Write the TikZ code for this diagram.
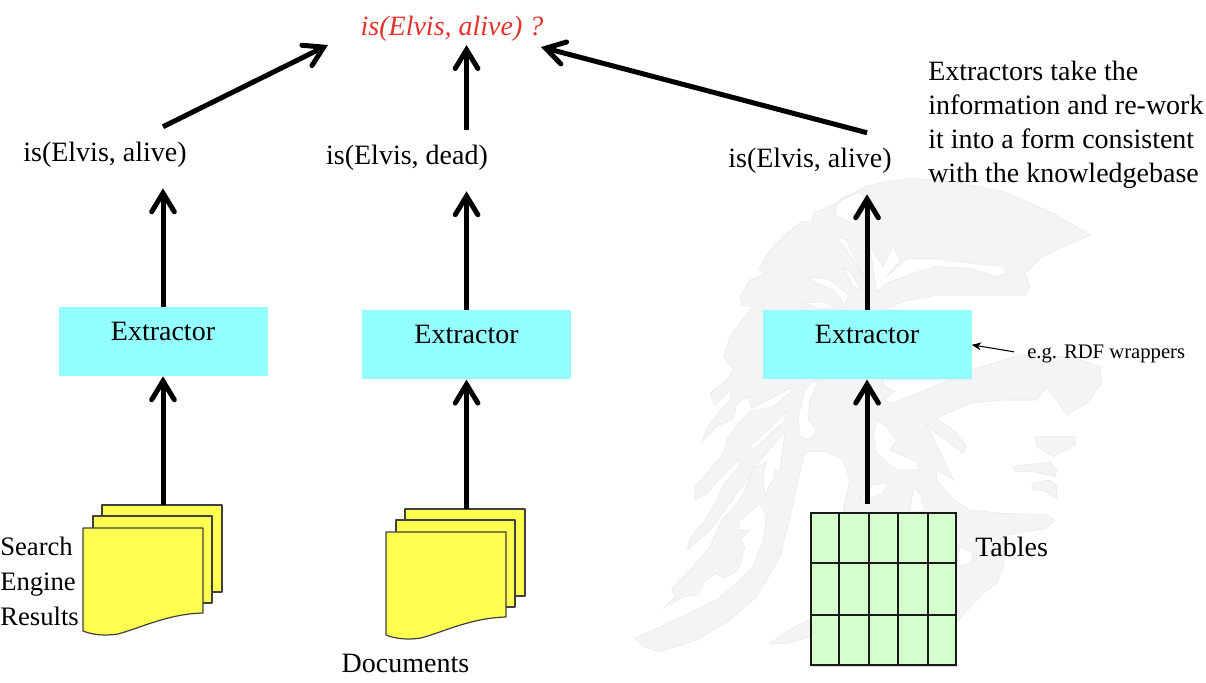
\documentclass[tikz,border=0pt]{standalone}
\usepackage{fontspec}
\setmainfont{Liberation Serif}
\definecolor{extcyan}{RGB}{148,255,255}
\definecolor{docyellow}{RGB}{255,255,80}
\definecolor{tblgreen}{RGB}{213,255,204}
\definecolor{askred}{RGB}{230,50,45}
\definecolor{helmetgray}{RGB}{244,244,244}
\usetikzlibrary{
  arrows.meta,
  positioning,
  calc,
  shadows
}
\tikzset{
  extbox/.style={fill=extcyan, minimum width=156.75pt, inner ysep=0pt,
    text height=24.75pt, text depth=27pt, font=\fontsize{21pt}{25pt}\selectfont},
  valtext/.style={minimum height=42pt, inner sep=0pt,
    font=\fontsize{21pt}{25pt}\selectfont},
  plaintext/.style={inner sep=0pt, align=left,
    font=\fontsize{21pt}{25.4pt}\selectfont},
  docsheet/.style={draw=black!75, line width=0.9pt, fill=docyellow, line join=round},
  tablebox/.style={draw=black!90, line width=1.8pt, fill=tblgreen,
    minimum width=108.75pt, minimum height=114pt, inner sep=0pt,
    drop shadow={shadow xshift=1pt, shadow yshift=-1.2pt, opacity=0.3}},
  gridline/.style={draw=black!90, line width=1.8pt},
  arr/.style={-{Straight Barb[length=14pt, width=17pt, line cap=round]}, line width=3.75pt},
  thinarr/.style={-{Stealth[length=7pt, width=6pt]}, line width=0.8pt},
  helmet/.style={fill=helmetgray, draw=black!9, line width=0.4pt},
  helmethole/.style={fill=white, draw=black!9, line width=0.4pt},
}
% one pile of three sheets, #1 names its top edge point
\newcommand{\docstack}[3]{
  \coordinate (#1) at (#2,#3);
  \begin{scope}[shift={(#2,#3)}]
    \path[docsheet] (-61,0) rectangle (59,87);
    \path[docsheet] (-70,11) rectangle (49,98);
    \path[docsheet] (-80,23) -- (40,23) -- (40,108)
      .. controls (5,109) and (-20,122) .. (-45,129)
      .. controls (-58,131) and (-70,130) .. (-80,126) -- cycle;
  \end{scope}
}
\begin{document}
\begin{tikzpicture}[x=0.75pt, y=-0.75pt]
  \useasboundingbox (0,0) rectangle (1206,682);

  % Faint helmet behind the right column
  \begin{scope}[shift={(620,170)}, x=0.25pt, y=-0.25pt]
    \path[helmet] (735,50) -- (800,35) -- (880,25) -- (1000,35) -- (1150,65) -- (1300,130)
      -- (1410,195) -- (1340,225) -- (1260,265) -- (1215,310) -- (1230,350) -- (1215,375)
      -- (1100,375) -- (950,375) -- (850,395) -- (800,415) -- (1000,500) -- (1053,600)
      -- (1200,555) -- (1350,560) -- (1440,590) -- (1445,640) -- (1400,700) -- (1340,735)
      -- (1310,690) -- (1280,650) -- (1250,690) -- (1150,690) -- (1050,700) -- (950,745)
      -- (1000,780) -- (1040,830) -- (1030,850) -- (990,820) -- (950,790) -- (920,765)
      -- (1000,930) -- (950,900) -- (950,930) -- (1000,990) -- (1050,1020) -- (1150,1030)
      -- (1280,1035) -- (1305,1050) -- (1280,1075) -- (1160,1095) -- (1150,1190)
      -- (1130,1240) -- (1090,1270) -- (1060,1300) -- (1007,1360) -- (900,1400)
      -- (700,1100) -- (670,1020) -- (690,930) -- (670,870) -- (620,845) -- (560,845)
      -- (550,860) -- (520,1000) -- (480,1160) -- (410,1280) -- (330,1350) -- (230,1410)
      -- (120,1445) -- (70,1430) -- (45,1405) -- (165,1350) -- (290,1290) -- (350,1240)
      -- (400,1190) -- (430,1110) -- (440,1040) -- (420,1000) -- (405,1015) -- (360,1050)
      -- (355,1080) -- (390,1080) -- (360,1110) -- (375,1130) -- (355,1200) -- (310,1225)
      -- (290,1210) -- (255,1230) -- (235,1275) -- (190,1280) -- (130,1315) -- (165,1280)
      -- (155,1255) -- (220,1190) -- (270,1130) -- (305,1050) -- (330,1025) -- (360,990)
      -- (395,910) -- (270,1080) -- (202,1140) -- (210,1105) -- (255,1050) -- (295,985)
      -- (310,945) -- (360,885) -- (355,870) -- (305,920) -- (260,970) -- (225,990)
      -- (225,950) -- (260,910) -- (310,850) -- (320,810) -- (350,765) -- (390,725)
      -- (460,710) -- (520,660) -- (510,655) -- (395,715) -- (385,680) -- (350,700)
      -- (340,745) -- (290,770) -- (245,815) -- (265,765) -- (300,725) -- (335,685)
      -- (330,660) -- (285,705) -- (270,670) -- (330,620) -- (340,600) -- (310,560)
      -- (330,500) -- (390,420) -- (400,410) -- (365,405) -- (360,380) -- (390,330)
      -- (440,310) -- (415,300) -- (450,240) -- (500,190) -- (545,155) -- (575,155)
      -- (580,130) -- (650,100) -- (665,85) -- (720,60) -- cycle;
    \path[helmet] (450,1420) -- (500,1385) -- (573,1345) -- (573,1400) -- (500,1420) -- cycle;
    \path[helmet] (1245,800) -- (1365,800) -- (1365,825) -- (1300,860) -- (1250,830) -- cycle;
    \path[helmet] (1180,890) -- (1290,875) -- (1310,900) -- (1305,920) -- (1240,905) -- (1185,905) -- cycle;
    \path[helmet] (1235,940) -- (1290,930) -- (1310,950) -- (1310,985) -- (1270,960) -- (1240,960) -- cycle;
    % Holes in the helmet
    \path[helmethole] (650,200) -- (680,210) -- (730,320) -- (700,270) -- cycle;
    \path[helmethole] (665,90) -- (715,68) -- (730,75) -- (735,110) -- (710,165) -- (675,150) -- (645,135) -- (650,105) -- cycle;
    \path[helmethole] (800,320) -- (860,265) -- (940,265) -- (1050,280) -- (1150,290) -- (1160,310)
      -- (1130,320) -- (1050,295) -- (950,290) -- (880,310) -- (800,340) -- (770,365)
      -- (760,300) -- (750,230) -- (790,290) -- (820,230) -- (840,270) -- cycle;
    \path[helmethole] (565,320) -- (630,330) -- (685,375) -- (675,405) -- (640,360) -- (580,335) -- cycle;
    \path[helmethole] (670,295) -- (690,305) -- (725,360) -- (700,350) -- cycle;
    \path[helmethole] (550,400) -- (610,395) -- (650,415) -- (600,415) -- cycle;
    \path[helmethole] (790,628) -- (1053,628) -- (1053,600) -- (1000,625) -- (820,700) -- (790,690)
      -- (825,665) -- (790,645) -- cycle;
    \path[helmethole] (575,635) -- (595,635) -- (570,690) -- (565,750) -- (590,780) -- (570,810)
      -- (540,800) -- (535,740) -- (555,660) -- cycle;
    \path[helmethole] (770,750) -- (800,770) -- (830,810) -- (810,840) -- (890,875) -- (895,900)
      -- (830,900) -- (770,850) -- (760,800) -- cycle;
    \path[helmethole] (720,985) -- (760,945) -- (800,940) -- (790,970) -- (750,985) -- cycle;
    \path[helmethole] (870,1025) -- (880,955) -- (900,970) -- (915,1025) -- cycle;
    \path[helmethole] (1020,1130) -- (1060,1150) -- (1050,1180) -- (1010,1190) -- cycle;
    \path[helmethole] (385,835) -- (500,725) -- (495,750) -- (405,835) -- cycle;
    \path[helmethole] (400,895) -- (495,785) -- (480,900) -- (465,900) -- (460,930) -- (445,950)
      -- (435,980) -- (430,910) -- (440,875) -- cycle;
  \end{scope}

  % Extractor boxes
  \node[extbox] (ext1) at (163,341.5) {Extractor};
  \node[extbox, right=70.5pt of ext1, yshift=-2.5pt] (ext2) {Extractor};
  \node[extbox, right=143.25pt of ext2] (ext3) {Extractor};

  % Extracted statements
  \node[valtext] (val1) at (105,155) {is(Elvis, alive)};
  \node[valtext] (val2) at (407,158) {is(Elvis, dead)};
  \node[valtext] (val3) at (810,161) {is(Elvis, alive)};

  % Question on top
  \node[valtext, text=askred, minimum height=0pt] (ask) at (452,29) {\itshape is(Elvis, alive) ?};
  \coordinate (askl) at (328,45);
  \coordinate (askr) at (541,47);

  % Sources
  \docstack{doc1}{163}{505}
  \docstack{doc2}{466}{509}
  \node[tablebox] (tbl) at (883.5,589) {};
  \foreach \c in {1,2,3,4} {
    \path[gridline] ($(tbl.north west)!\c/5!(tbl.north east)$) -- ($(tbl.south west)!\c/5!(tbl.south east)$);
  }
  \foreach \r in {1,2} {
    \path[gridline] ($(tbl.north west)!\r/3!(tbl.south west)$) -- ($(tbl.north east)!\r/3!(tbl.south east)$);
  }

  % Arrows
  \foreach \s/\t in {ext1/val1, ext2/val2, ext3/val3} {
    \draw[arr, shorten >=3.75pt] (\s.north) -- (\s.north |- \t.south);
  }
  \draw[arr] (ext1.south |- doc1) -- (ext1.south);
  \draw[arr] (ext2.south |- doc2) -- (ext2.south);
  \draw[arr, shorten <=6pt] (ext3.south |- tbl.north) -- (ext3.south);
  \draw[arr] (val1.north -| ext1.north) -- (askl);
  \draw[arr] (val2.north -| ext2.north) -- (ext2.north |- askl);
  \draw[arr] (val3.north -| ext3.north) -- (askr);

  % Side labels
  \node[plaintext, anchor=north west, font=\fontsize{20pt}{26pt}\selectfont] (srch) at (0,537) {Search\\Engine\\Results};
  \node[plaintext] (docs) at (405.5,663) {Documents};
  \node[plaintext, anchor=west] (tabs) at (975,547) {Tables};
  \node[plaintext, anchor=north west] (why) at (928,61) {Extractors take the\\information and re-work\\it into a form consistent\\with the knowledgebase};
  \node[plaintext, anchor=west, font=\fontsize{15.5pt}{18pt}\selectfont] (rdf) at (1027,354) {e.g. RDF wrappers};
  \draw[thinarr, shorten <=10pt] (rdf.west) -- (ext3.east);
\end{tikzpicture}
\end{document}
